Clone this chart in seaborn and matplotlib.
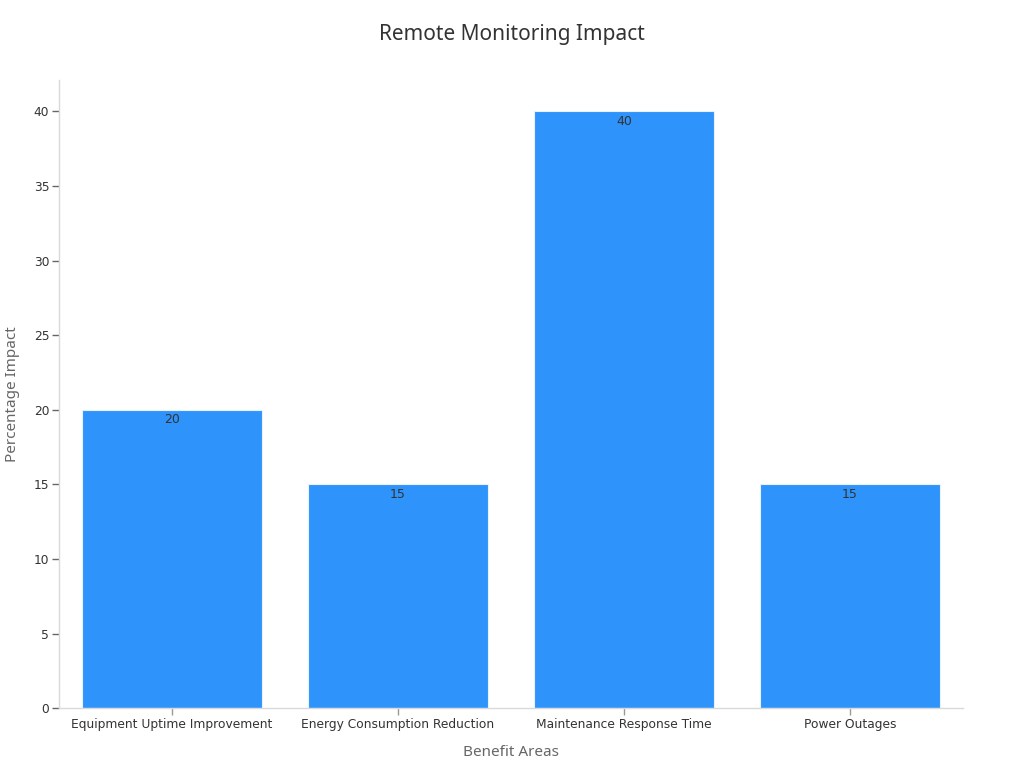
import matplotlib
matplotlib.use("Agg")
import matplotlib.pyplot as plt
import seaborn as sns
import pandas as pd

categories = ["Equipment Uptime Improvement", "Energy Consumption Reduction",
              "Maintenance Response Time", "Power Outages"]
values = [20, 15, 40, 15]
yticks = [0, 5, 10, 15, 20, 25, 30, 35, 40]

sns.set_style("white", {"xtick.bottom": True, "ytick.left": True})
plt.rcParams['font.family'] = ['DejaVu Sans']

df = pd.DataFrame({"Benefit Areas": categories, "Percentage Impact": values})

fig = plt.figure(figsize=(10.24, 7.68), dpi=100)
ax = fig.add_axes([0.0576, 0.078, 0.8828, 0.8178])
sns.barplot(data=df, x="Benefit Areas", y="Percentage Impact", color="#2E93FA",
            saturation=1, width=0.8, edgecolor="#e8f2fe", linewidth=0.8, ax=ax)

ax.set_xlim(-0.5, 3.5)
ax.set_ylim(0, 42.1)
ax.set_yticks(yticks)
ax.tick_params(axis="both", labelsize=8.8, length=5, width=1, pad=2,
               bottom=True, left=True)
ax.tick_params(axis="x", colors="#999999", labelcolor="#333333")
ax.tick_params(axis="y", colors="#666666", labelcolor="#333333")

for c in ax.containers:
    ax.bar_label(c, labels=[str(v) for v in values], label_type="edge",
                 padding=-12, fontsize=9, color="#333333")

for s in ["top", "right"]:
    ax.spines[s].set_visible(False)
for s in ["left", "bottom"]:
    ax.spines[s].set_color("#d9d9d9")
    ax.spines[s].set_linewidth(1)

ax.set_xlabel("Benefit Areas", fontsize=11, color="#666666", family="Noto Sans", labelpad=10)
ax.set_ylabel("Percentage Impact", fontsize=11, color="#666666", family="Noto Sans", labelpad=10)
fig.suptitle("Remote Monitoring Impact", fontsize=15, color="#333333", family="Noto Sans", y=0.969)

fig.savefig("out.png", dpi=100)
